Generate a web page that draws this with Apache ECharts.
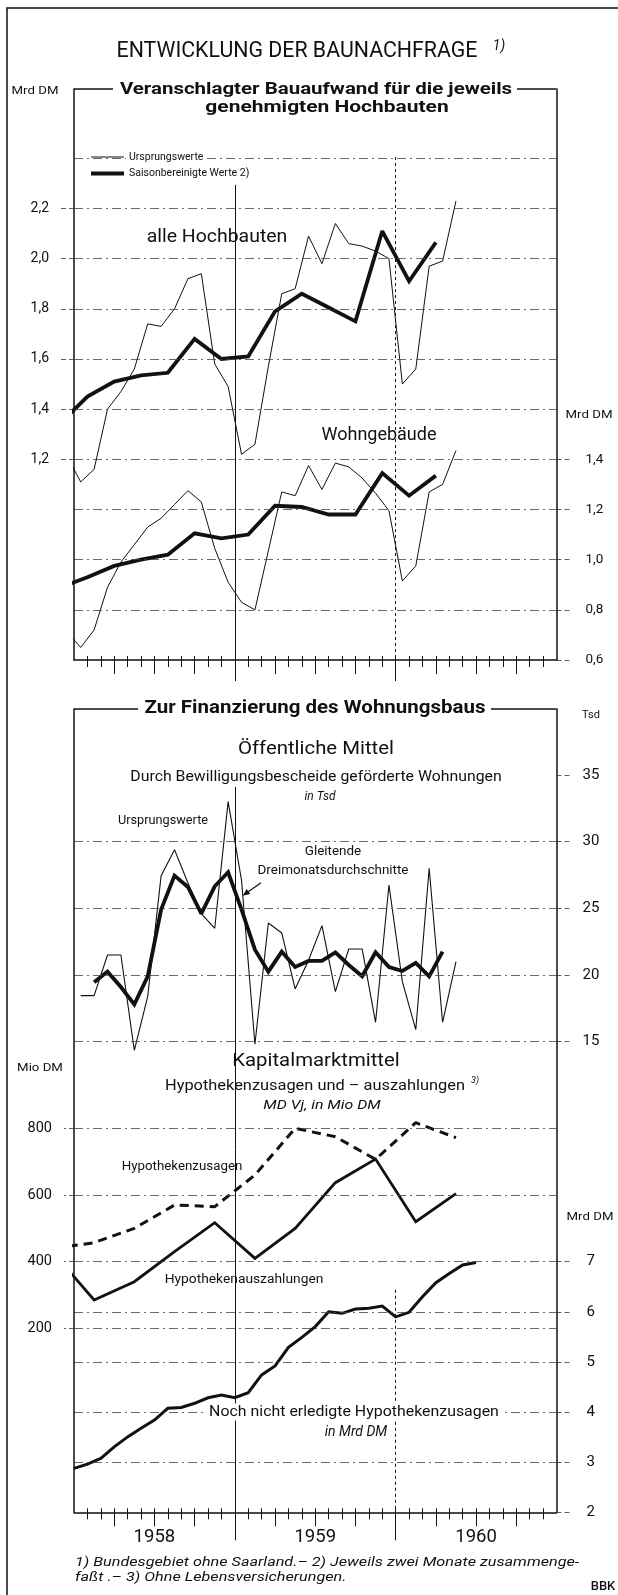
<!DOCTYPE html>
<html>
<head>
<meta charset="utf-8">
<title>Entwicklung der Baunachfrage</title>
<script src="https://cdn.jsdelivr.net/npm/echarts@6/dist/echarts.min.js"></script>
<style>
  body { margin: 0; background: #fff; }
  #main { width: 618px; height: 1595px; }
</style>
</head>
<body>
<div id="main"></div>
<script>
// x axis counts months: 0 = start of Jan 1958, 36 = end of Dec 1960
var yearLabels = ['1958', '1959', '1960'];

// Veranschlagter Bauaufwand, Mrd DM (monthly from Dec 1957)
var alleUrsprung = [1.21, 1.11, 1.16, 1.40, 1.47, 1.56, 1.74, 1.73, 1.80, 1.92, 1.94, 1.58, 1.49,
  1.22, 1.26, 1.57, 1.86, 1.88, 2.09, 1.98, 2.14, 2.06, 2.05, 2.03, 2.00, 1.50, 1.56, 1.97, 1.99, 2.23];
var wohnUrsprung = [0.71, 0.65, 0.72, 0.89, 0.99, 1.06, 1.13, 1.165, 1.22, 1.275, 1.23, 1.045, 0.91,
  0.83, 0.80, 1.035, 1.27, 1.255, 1.375, 1.28, 1.385, 1.37, 1.325, 1.265, 1.195, 0.915, 0.975, 1.27, 1.30, 1.435];
// saisonbereinigt, two months each (Nov/Dec 1957 ... Mar/Apr 1960)
var alleSaison = [1.345, 1.45, 1.51, 1.535, 1.545, 1.68, 1.60, 1.61, 1.79, 1.86, 1.805, 1.75, 2.11, 1.91, 2.065];
var wohnSaison = [0.89, 0.93, 0.975, 1.00, 1.02, 1.105, 1.085, 1.10, 1.215, 1.21, 1.18, 1.18, 1.345, 1.255, 1.335];

// geförderte Wohnungen, Tsd (monthly from Jan 1958), moving average from Feb 1958
var wohnungen = [18.45, 18.45, 21.5, 21.5, 14.35, 18.4, 27.45, 29.4, 26.9, 24.6, 23.5, 33.0, 27.1, 14.8,
  23.9, 23.15, 18.95, 21.1, 23.7, 18.75, 21.95, 21.95, 16.45, 26.75, 19.5, 15.9, 28.0, 16.45, 21.0];
var wohnungenGleitend = [19.45, 20.25, 19.1, 17.8, 19.9, 24.9, 27.45, 26.6, 24.6, 26.65, 27.7, 24.9, 21.9,
  20.25, 21.75, 20.6, 21.05, 21.05, 21.7, 20.75, 19.9, 21.7, 20.6, 20.3, 20.9, 19.9, 21.75];

// Hypotheken, Mio DM per quarter (from Q4 1957)
var zusagen = [440, 457, 500, 570, 565, 660, 800, 775, 707, 817, 772];
var auszahlungen = [425, 285, 340, 430, 517, 410, 500, 637, 708, 520, 604];
// noch nicht erledigte Zusagen, Mrd DM at month ends (Dec 1957 ... Jun 1960)
var offeneZusagen = [2.875, 2.96, 3.075, 3.305, 3.505, 3.675, 3.84, 4.075, 4.09, 4.175, 4.285, 4.34, 4.285,
  4.385, 4.74, 4.92, 5.29, 5.49, 5.705, 6.0, 5.97, 6.055, 6.07, 6.115, 5.9, 5.99, 6.3, 6.58, 6.765, 6.935, 6.985];

var topRightLabels = [0.6, 0.8, 1.0, 1.2, 1.4];
var topLeftLabels = [1.2, 1.4, 1.6, 1.8, 2.0, 2.2];
var topGrid = [0.8, 1.0, 1.2, 1.4, 1.6, 1.8, 2.0, 2.2, 2.4, 2.6];
var tsdLabels = [15, 20, 25, 30, 35];
var tsdGrid = [15, 20, 25, 30];
var mioLabels = [200, 400, 600, 800];
var mrdLabels = [2, 3, 4, 5, 6, 7];
var mrdGrid = [3, 4, 5, 6];

var monthTicks = [], quarterTicks = [];
for (var m = 1; m < 36; m++) { monthTicks.push(m); if (m % 3 === 0) quarterTicks.push(m); }
var yearTicks = [12, 24];
var yearLabelPos = [6, 18, 30];

function monthly(values, first) { return values.map(function (v, k) { return [first + k + 0.5, v]; }); }
function everyTwo(values, first) { return values.map(function (v, k) { return [first + 2 * k, v]; }); }
function quarterly(values, first) { return values.map(function (v, k) { return [(first + k) * 3 + 1.5, v]; }); }
function monthEnds(values, first) { return values.map(function (v, k) { return [first + k, v]; }); }

var FONT = 'Roboto, "Open Sans", sans-serif';
var INK = '#111';
var W = 618, H = 1595;
var boxL = 74, boxR = 556.5;

function rect(top, bottom) {
  return { left: boxL, right: W - boxR, top: top, bottom: H - bottom, outerBoundsMode: 'none' };
}
var grid = [
  rect(89, 660),        // 0 Bauaufwand
  rect(709, 1512.3),    // 1 frame of the lower box
  rect(708.3, 1108.3),  // 2 Tsd 10..40
  rect(1061.7, 1395),   // 3 Mio DM 0..1000
  rect(1261.7, 1512.3)  // 4 Mrd DM 2..7
];

var xAxis = [];
function xTicks(g, values, len, inside, line) {
  xAxis.push({
    type: 'value', gridIndex: g, min: 0, max: 36, position: 'bottom',
    axisLine: { show: !!line, onZero: false, lineStyle: { color: INK, width: 1.5 } },
    axisTick: { show: true, customValues: values, inside: !!inside, length: len, lineStyle: { color: INK, width: 1 } },
    axisLabel: { show: false }, splitLine: { show: false }
  });
  return xAxis.length - 1;
}
function xHidden(g) {
  xAxis.push({ type: 'value', gridIndex: g, min: 0, max: 36, show: false });
  return xAxis.length - 1;
}
var xTop = xTicks(0, monthTicks, 7, false, true);
xTicks(0, monthTicks, 4, true);
xTicks(0, quarterTicks, 14);
xTicks(0, yearTicks, 21);
var xLow = xTicks(1, monthTicks, 7, false, true);
xTicks(1, monthTicks, 4, true);
xTicks(1, quarterTicks, 14);
xTicks(1, yearTicks, 28);
xAxis.push({
  type: 'value', gridIndex: 1, min: 0, max: 36, position: 'bottom',
  axisLine: { show: false }, axisTick: { show: false }, splitLine: { show: false },
  axisLabel: { show: true, customValues: yearLabelPos, margin: 16, color: INK, fontSize: 18.5, fontFamily: FONT,
    formatter: function (v) { return yearLabels[Math.round((v - 6) / 12)]; } }
});
var xTsd = xHidden(2), xMio = xHidden(3), xMrd = xHidden(4);

function comma(v) { return v.toFixed(1).replace('.', ','); }
function yAx(g, pos, min, max, labels, o) {
  o = o || {};
  return {
    type: 'value', gridIndex: g, position: pos, min: min, max: max,
    axisLine: { show: !!o.line, onZero: false, lineStyle: { color: INK, width: 1.5 } },
    axisTick: labels ? { show: true, customValues: labels, length: o.tick || 12,
      lineStyle: { color: '#333', width: 0.8, type: [5, 3] } } : { show: false },
    axisLabel: labels ? { show: true, customValues: labels, margin: o.margin, color: INK,
      fontSize: o.size || 13, fontFamily: FONT, formatter: o.fmt } : { show: false },
    splitLine: { show: false }
  };
}
var yAxis = [
  yAx(0, 'right', 0.6, 2.8763, topRightLabels, { line: true, margin: 29, tick: 13, fmt: comma, size: 13.5 }),
  yAx(0, 'left', 0.4, 2.6763, topLeftLabels, { line: true, margin: 25, tick: 14, fmt: comma, size: 14 }),
  yAx(1, 'left', 0, 1, null, { line: true }),
  yAx(1, 'right', 0, 1, null, { line: true }),
  yAx(2, 'right', 10, 40, tsdLabels, { margin: 26, tick: 13, size: 15 }),
  yAx(3, 'left', 0, 1000, mioLabels, { margin: 22, tick: 10, size: 14.5 }),
  yAx(4, 'right', 2, 7, mrdLabels, { margin: 30, tick: 13, size: 15 })
];

function gridLines(values) {
  return {
    silent: true, symbol: ['none', 'none'], animation: false, label: { show: false },
    lineStyle: { color: '#444', width: 0.8, type: [9, 4, 2, 4] },
    data: values.map(function (v) { return { yAxis: v }; })
  };
}
function yearLines(x1, from1, x2, from2, to) {
  return {
    silent: true, symbol: ['none', 'none'], animation: false, label: { show: false },
    lineStyle: { color: INK, width: 1, type: 'solid' },
    data: [
      [{ coord: [x1, from1] }, { coord: [x1, to] }],
      [{ coord: [x2, from2], lineStyle: { type: [3, 3] } }, { coord: [x2, to] }]
    ]
  };
}
function line(data, xi, yi, width, extra) {
  var s = {
    type: 'line', xAxisIndex: xi, yAxisIndex: yi, data: data, symbol: 'none', silent: true,
    animation: false, clip: true,
    lineStyle: { color: INK, width: width, type: 'solid', join: width > 2 ? 'miter' : 'bevel', miterLimit: 2 }
  };
  for (var k in extra) s[k] = extra[k];
  return s;
}

var series = [
  line(monthly(alleUrsprung, -1), xTop, 1, 1, { markLine: yearLines(12, 2.294, 24, 2.405, 0.4) }),
  line(everyTwo(alleSaison, -1), xTop, 1, 3.8),
  line(monthly(wohnUrsprung, -1), xTop, 0, 1, { markLine: gridLines(topGrid) }),
  line(everyTwo(wohnSaison, -1), xTop, 0, 3.8),
  line([], xLow, 2, 1, { markLine: yearLines(12, 0.903, 24, 0.277, 0) }),
  line(monthly(wohnungen, 0), xTsd, 4, 1.1, { markLine: gridLines(tsdGrid) }),
  line(monthly(wohnungenGleitend, 1), xTsd, 4, 3.8),
  line(quarterly(zusagen, -1), xMio, 5, 3, { lineStyle: { color: INK, width: 3, type: [9, 6] } }),
  line(quarterly(auszahlungen, -1), xMio, 5, 2.8, { markLine: gridLines(mioLabels) }),
  line(monthEnds(offeneZusagen, 0), xMrd, 6, 3, { markLine: gridLines(mrdGrid) })
];

// o.sx widens the lettering, the originals use a broad technical script
function T(x, y, text, size, o) {
  o = o || {};
  return {
    type: 'text', x: x, y: y, z: 50, silent: true, scaleX: o.sx || 1,
    style: {
      text: text, fill: INK, fontFamily: FONT, fontSize: size,
      fontWeight: o.weight || 'normal', fontStyle: o.italic ? 'italic' : 'normal',
      align: o.align || 'center', verticalAlign: 'middle',
      backgroundColor: o.bg || 'transparent', padding: o.bg ? [1, 3] : 0
    }
  };
}
function S(x1, y1, x2, y2, w) {
  return { type: 'line', z: 50, silent: true, shape: { x1: x1, y1: y1, x2: x2, y2: y2 },
    style: { stroke: INK, lineWidth: w || 1.2 } };
}

var graphics = [
  { type: 'polyline', z: 50, silent: true, shape: { points: [[7, 1595], [7, 8], [618, 8]] },
    style: { stroke: INK, lineWidth: 1.5, fill: null } },
  T(297, 51, 'ENTWICKLUNG DER BAUNACHFRAGE', 22, { sx: 0.97 }),
  T(499, 46, '1)', 14, { italic: true }),

  S(74, 89, 113, 89, 1.5), S(517, 89, 556.5, 89, 1.5),
  T(316, 90, 'Veranschlagter Bauaufwand für die jeweils', 16.5, { weight: 'bold', sx: 1.24 }),
  T(327, 108, 'genehmigten Hochbauten', 16.5, { weight: 'bold', sx: 1.27 }),
  T(35, 91, 'Mrd DM', 11.5, { sx: 1.15 }),
  S(91, 157, 124, 157, 1), T(126, 157, 'Ursprungswerte', 10.5, { align: 'left', bg: '#fff' }),
  S(91, 173.5, 124, 173.5, 3.8), T(126, 173.5, 'Saisonbereinigte Werte 2)', 10.5, { align: 'left', bg: '#fff' }),
  T(217, 237, 'alle Hochbauten', 18, { sx: 1.08 }),
  T(379, 435, 'Wohngebäude', 18),
  T(589, 415, 'Mrd DM', 11.5, { sx: 1.15 }),

  S(74, 709, 138, 709, 1.5), S(491, 709, 556.5, 709, 1.5),
  T(315, 708.5, 'Zur Finanzierung des Wohnungsbaus', 17.5, { weight: 'bold', sx: 1.17 }),
  T(591, 715, 'Tsd', 11),
  T(316, 749, 'Öffentliche Mittel', 18.5, { sx: 1.1 }),
  T(316, 777, 'Durch Bewilligungsbescheide geförderte Wohnungen', 14, { sx: 1.13 }),
  T(320, 797, 'in Tsd', 12, { italic: true }),
  T(163, 821, 'Ursprungswerte', 12, { sx: 1.06 }),
  T(333, 852, 'Gleitende', 12, { sx: 1.12 }),
  T(333, 871, 'Dreimonatsdurchschnitte', 12, { sx: 1.12 }),
  S(261, 882.7, 246.5, 893, 1.2),
  { type: 'polygon', z: 50, silent: true, shape: { points: [[242.7, 895.7], [250.2, 893.9], [246.6, 889.1]] },
    style: { fill: INK } },

  T(316, 1061, 'Kapitalmarktmittel', 18.5, { sx: 1.1 }),
  T(315, 1086, 'Hypothekenzusagen und – auszahlungen', 14, { sx: 1.17 }),
  T(475, 1081, '3)', 9, { italic: true }),
  T(322, 1106, 'MD Vj, in Mio DM', 13, { italic: true, sx: 1.22 }),
  T(40, 1068, 'Mio DM', 11.5, { sx: 1.15 }),
  T(182, 1167, 'Hypothekenzusagen', 12, { sx: 1.11 }),
  T(244, 1280, 'Hypothekenauszahlungen', 12, { sx: 1.15 }),
  T(590, 1217, 'Mrd DM', 11.5, { sx: 1.15 }),
  T(354, 1412, 'Noch nicht erledigte Hypothekenzusagen', 15, { bg: '#fff', sx: 1.06 }),
  T(356, 1432, 'in Mrd DM', 14, { italic: true }),

  T(75, 1563, '1) Bundesgebiet ohne Saarland.– 2) Jeweils zwei Monate zusammenge-', 13.5, { italic: true, align: 'left', sx: 1.2 }),
  T(75, 1578, 'faßt .– 3) Ohne Lebensversicherungen.', 13.5, { italic: true, align: 'left', sx: 1.2 }),
  T(603, 1587, 'BBK', 13, { weight: 500 })
];

var chart = echarts.init(document.getElementById('main'));
chart.setOption({
  animation: false,
  backgroundColor: '#fff',
  textStyle: { fontFamily: FONT },
  grid: grid,
  xAxis: xAxis,
  yAxis: yAxis,
  series: series,
  graphic: { elements: graphics }
});
</script>
</body>
</html>
